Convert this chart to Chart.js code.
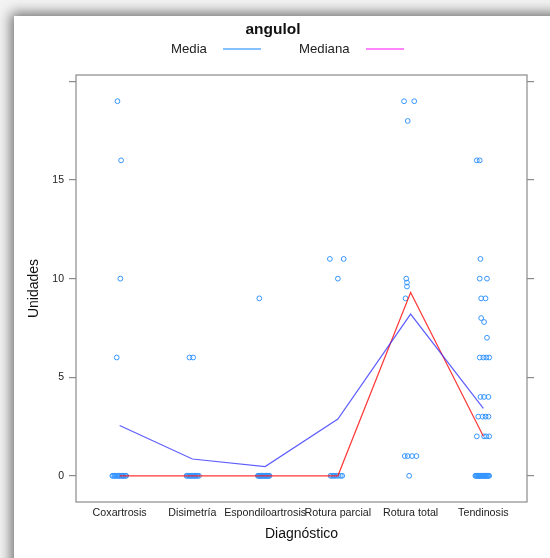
<!DOCTYPE html>
<html><head><meta charset="utf-8">
<script src="https://cdn.jsdelivr.net/npm/chart.js@4.4.1/dist/chart.umd.min.js"></script>
<style>
html,body{margin:0;padding:0;width:550px;height:558px;overflow:hidden;background:#f3f3f3;}
#panel{position:absolute;left:14px;top:16px;width:620px;height:620px;background:#fff;box-shadow:0 0 12px 3px rgba(0,0,0,0.55);}
#wrap{position:absolute;left:0;top:0;width:550px;height:558px;}
</style></head><body>
<div id="panel"></div>
<div id="wrap"><canvas id="c" width="550" height="558"></canvas></div>
<script>
const categories = ['Coxartrosis','Disimetría','Espondiloartrosis','Rotura parcial','Rotura total','Tendinosis'];
const yTickValues = [0,5,10,15,20];
const yTickLabels = ['0','5','10','15',''];

const coxartrosisValues = [19,16,10,6,0,0,0,0,0,0,0,0,0,0,0,0,0,0,0,0];
const coxartrosisJitter = [-0.03,0.02,0.01,-0.04,-0.10,-0.09,-0.07,-0.06,-0.05,-0.03,-0.02,-0.01,0.00,0.02,0.03,0.04,0.05,0.06,0.08,0.09];
const disimetriaValues = [6,6,0,0,0,0,0,0,0,0,0,0,0,0,0];
const disimetriaJitter = [-0.04,0.01,-0.08,-0.07,-0.05,-0.04,-0.02,-0.01,0.00,0.02,0.03,0.04,0.06,0.07,0.09];
const espondiloValues = [9,0,0,0,0,0,0,0,0,0,0,0,0,0,0,0,0,0,0,0];
const espondiloJitter = [-0.08,-0.10,-0.09,-0.08,-0.07,-0.06,-0.05,-0.04,-0.03,-0.02,-0.01,0.00,0.01,0.02,0.03,0.04,0.05,0.06,0.02,-0.05];
const roturaParcialValues = [11,11,10,0,0,0,0,0,0,0,0];
const roturaParcialJitter = [-0.11,0.08,0.00,-0.10,-0.08,-0.06,-0.04,-0.02,0.01,0.04,0.06];
const roturaTotalValues = [19,19,18,10,9.8,9.6,9,1,1,1,1,0];
const roturaTotalJitter = [-0.09,0.05,-0.04,-0.06,-0.05,-0.05,-0.07,-0.08,-0.04,0.02,0.08,-0.02];
const tendinosisValues = [16,16,11,10,10,9,9,8,7.8,7,6,6,6,6,4,4,4,3,3,3,3,2,2,2,2,0,0,0,0,0,0,0,0,0,0,0,0,0,0,0,0,0,0,0,0,0,0];
const tendinosisJitter = [-0.09,-0.05,-0.04,-0.05,0.05,-0.03,0.03,-0.03,0.01,0.05,-0.05,0.00,0.04,0.08,-0.04,0.01,0.07,-0.07,-0.01,0.03,0.07,-0.09,0.01,0.04,0.08,-0.11,-0.10,-0.09,-0.08,-0.07,-0.06,-0.05,-0.04,-0.03,-0.02,-0.01,0.00,0.01,0.02,0.03,0.04,0.05,0.06,0.07,0.08,-0.06,0.02];

const mediaValues = [2.55,0.85,0.47,2.88,8.2,3.42];
const medianaValues = [0,0,0,0,9.3,2];

const groupValues = [coxartrosisValues,disimetriaValues,espondiloValues,roturaParcialValues,roturaTotalValues,tendinosisValues];
const groupJitter = [coxartrosisJitter,disimetriaJitter,espondiloJitter,roturaParcialJitter,roturaTotalJitter,tendinosisJitter];

const pointData = [];
groupValues.forEach((vals,i)=>{vals.forEach((v,j)=>{pointData.push({x:i+1+groupJitter[i][j], y:v});});});
const mediaData = mediaValues.map((v,i)=>({x:i+1,y:v}));
const medianaData = medianaValues.map((v,i)=>({x:i+1,y:v}));

const FONT = '"Liberation Sans", Arial, Helvetica, sans-serif';
Chart.defaults.font.family = FONT;
Chart.defaults.color = '#222';

const framePlugin = {
  id:'frame',
  afterDraw(chart){
    const {ctx, chartArea:a} = chart;
    ctx.save();
    ctx.strokeStyle = '#8a8a8a';
    ctx.lineWidth = 1.2;
    ctx.strokeRect(a.left, a.top, a.right-a.left, a.bottom-a.top);
    // title
    ctx.fillStyle = '#111';
    ctx.font = 'bold 15.5px ' + FONT;
    ctx.textAlign = 'center';
    ctx.textBaseline = 'middle';
    ctx.fillText('angulol', 273, 30);
    // legend
    ctx.font = '13.2px ' + FONT;
    ctx.textAlign = 'left';
    ctx.fillStyle = '#222';
    ctx.fillText('Media', 171, 49);
    ctx.fillText('Mediana', 299, 49);
    ctx.lineWidth = 2;
    ctx.strokeStyle = '#86c2ff';
    ctx.beginPath(); ctx.moveTo(223,49); ctx.lineTo(261,49); ctx.stroke();
    ctx.strokeStyle = '#ff86ff';
    ctx.beginPath(); ctx.moveTo(366,49); ctx.lineTo(404,49); ctx.stroke();
    ctx.restore();
  }
};

new Chart(document.getElementById('c'), {
  type:'scatter',
  data:{datasets:[
    {label:'Media', type:'line', data:mediaData, borderColor:'rgba(40,40,255,0.75)', borderWidth:1.2, pointRadius:0, fill:false, tension:0, order:0},
    {label:'Mediana', type:'line', data:medianaData, borderColor:'rgba(255,20,20,0.85)', borderWidth:1.2, pointRadius:0, fill:false, tension:0, order:0},
    {label:'angulol', data:pointData, borderColor:'#3595ff', backgroundColor:'rgba(0,0,0,0)', borderWidth:1, pointRadius:2.4, pointHoverRadius:2.4, order:1}
  ]},
  options:{
    responsive:false, animation:false, events:[],
    layout:{padding:{top:75,left:0,right:0,bottom:0}},
    plugins:{legend:{display:false}, tooltip:{enabled:false}, title:{display:false}},
    scales:{
      x:{type:'linear', position:'bottom', min:0.4, max:6.6,
        afterBuildTicks(s){ s.ticks = categories.map((c,i)=>({value:i+1})); },
        afterFit(s){ s.height = 56; },
        ticks:{callback:(v)=>categories[Math.round(v)-1], font:{size:10.7}, padding:5, maxRotation:0, autoSkip:false, color:'#222'},
        grid:{display:false, drawTicks:false},
        border:{display:false},
        title:{display:true, text:'Diagnóstico', font:{size:14}, color:'#111', padding:{top:0,bottom:15}}
      },
      y:{type:'linear', position:'left', min:-1.33, max:20.33,
        afterBuildTicks(s){ s.ticks = yTickValues.map(v=>({value:v})); },
        afterFit(s){ s.width = 76; },
        ticks:{callback:(v)=>yTickLabels[yTickValues.indexOf(v)], font:{size:10.5}, padding:5, color:'#222'},
        grid:{drawOnChartArea:false, drawTicks:true, tickLength:7, color:'#8a8a8a', lineWidth:1.2},
        border:{display:false},
        title:{display:true, text:'Unidades', font:{size:14}, color:'#111', padding:{top:26,bottom:0}}
      },
      y2:{type:'linear', position:'right', min:-1.33, max:20.33,
        afterBuildTicks(s){ s.ticks = yTickValues.map(v=>({value:v})); },
        afterFit(s){ s.width = 23; },
        ticks:{callback:()=>'', padding:0},
        grid:{drawOnChartArea:false, drawTicks:true, tickLength:7, color:'#8a8a8a', lineWidth:1.2},
        border:{display:false}
      }
    }
  },
  plugins:[framePlugin]
});
</script>
</body></html>
